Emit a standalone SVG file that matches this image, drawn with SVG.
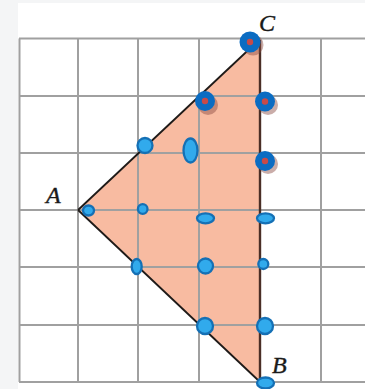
<svg xmlns="http://www.w3.org/2000/svg" width="365" height="389" viewBox="0 0 365 389">
<style>
.grid{stroke:#a0a0a0;stroke-width:2;fill:none}
.edge{stroke:#1e1a18;stroke-width:1.8;fill:none}
.edgeR{stroke:#4a2e26;stroke-width:2.4;fill:none}
.big{fill:#0b6cc2}
.core{fill:#c84a48}
.shadow{fill:#8a4a40;opacity:0.45}
.dot{fill:#31aaec;stroke:#1570b5;stroke-width:2.3}
.lbl{font-family:"Liberation Serif","DejaVu Serif",serif;font-style:italic;font-size:24px;fill:#1a1a1a;stroke:#1a1a1a;stroke-width:0.4}
</style>
<rect width="365" height="389" fill="#f4f5f6"/>
<rect x="18" y="3" width="347" height="386" fill="#ffffff"/>
<g id="triangle">
<polygon points="78,210 260,39 260,382" fill="#f8bba1"/>
</g>
<g id="grid" class="grid">
<line x1="19" y1="38.5" x2="365" y2="38.5"/>
<line x1="19" y1="96" x2="365" y2="96"/>
<line x1="19" y1="153" x2="365" y2="153"/>
<line x1="19" y1="210" x2="365" y2="210"/>
<line x1="19" y1="267" x2="365" y2="267"/>
<line x1="19" y1="325" x2="365" y2="325"/>
<line x1="19" y1="382" x2="365" y2="382"/>
<line x1="19.5" y1="38.5" x2="19.5" y2="382"/>
<line x1="78" y1="38.5" x2="78" y2="382"/>
<line x1="138" y1="38.5" x2="138" y2="382"/>
<line x1="199" y1="38.5" x2="199" y2="382"/>
<line x1="260" y1="38.5" x2="260" y2="382"/>
<line x1="321" y1="38.5" x2="321" y2="382"/>
</g>
<g id="connectors">
<line class="edge" x1="78" y1="210" x2="259" y2="40"/>
<line class="edge" x1="78" y1="210" x2="260" y2="382"/>
<line class="edgeR" x1="260" y1="40" x2="260" y2="382"/>
</g>
<g id="dotC"><circle class="shadow" cx="253" cy="45" r="10.5"/><circle class="big" cx="250" cy="42" r="10.5"/><circle class="core" cx="250" cy="42" r="3.2"/></g>
<g id="dot2"><circle class="shadow" cx="208" cy="105" r="10"/><circle class="big" cx="205" cy="101" r="10"/><circle class="core" cx="205" cy="101" r="3.2"/></g>
<g id="dot3"><circle class="shadow" cx="268" cy="105" r="10"/><circle class="big" cx="265" cy="101.5" r="10"/><circle class="core" cx="265" cy="101.5" r="3.2"/></g>
<g id="dot4"><circle class="shadow" cx="268" cy="164" r="10"/><circle class="big" cx="265" cy="161" r="10"/><circle class="core" cx="265" cy="161" r="3.2"/></g>
<g id="dot5"><ellipse class="dot" cx="145" cy="145.5" rx="7.5" ry="7.5"/></g>
<g id="dot6"><ellipse class="dot" cx="190.5" cy="150.5" rx="7" ry="12"/></g>
<g id="dotA"><ellipse class="dot" cx="88.5" cy="210.5" rx="5.5" ry="5"/></g>
<g id="dot8"><circle class="dot" cx="142.7" cy="209" r="4.8"/></g>
<g id="dot9"><ellipse class="dot" cx="205.5" cy="218.3" rx="8.5" ry="5"/></g>
<g id="dot10"><ellipse class="dot" cx="265.5" cy="218.3" rx="8.5" ry="5"/></g>
<g id="dot11"><ellipse class="dot" cx="136.7" cy="266.5" rx="5" ry="7.5"/></g>
<g id="dot12"><circle class="dot" cx="205.5" cy="266" r="7.5"/></g>
<g id="dot13"><circle class="dot" cx="263.3" cy="264" r="5"/></g>
<g id="dot14"><circle class="dot" cx="205" cy="326" r="8"/></g>
<g id="dot15"><circle class="dot" cx="265" cy="326" r="8"/></g>
<g id="dotB"><ellipse class="dot" cx="265.5" cy="383" rx="8.5" ry="5.5"/></g>
<g id="labels">
<text class="lbl" x="259" y="31">C</text>
<text class="lbl" x="46" y="203">A</text>
<text class="lbl" x="272" y="373">B</text>
</g>
</svg>
